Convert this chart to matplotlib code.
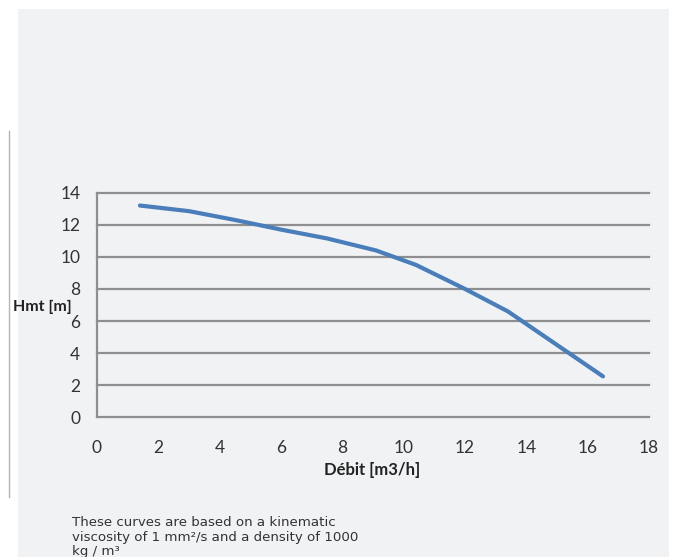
"""Pump curve: Hmt vs flow rate."""
import matplotlib
matplotlib.use('Agg')
import matplotlib.pyplot as plt
from matplotlib.patches import Rectangle
from matplotlib.lines import Line2D

# data
debit = [1.4, 3.0, 4.5, 6.0, 7.5, 9.1, 10.4, 12.0, 13.4, 16.5]
hmt = [13.2, 12.85, 12.3, 11.7, 11.15, 10.4, 9.5, 8.0, 6.6, 2.55]
x_ticks = [0, 2, 4, 6, 8, 10, 12, 14, 16, 18]
y_ticks = [0, 2, 4, 6, 8, 10, 12, 14]
note_lines = [
    "These curves are based on a kinematic",
    "viscosity of 1 mm²/s and a density of 1000",
    "kg / m³",
]

W, H = 675, 557
fig = plt.figure(figsize=(W / 100, H / 100), dpi=100)
fig.patch.set_facecolor("white")

# light gray panel behind everything
fig.add_artist(Rectangle((18 / W, 0), (669 - 18) / W, (H - 9) / H,
                         transform=fig.transFigure, facecolor="#f1f2f4",
                         edgecolor="none", zorder=0))
fig.add_artist(Line2D([8.5 / W, 8.5 / W], [1 - 131 / H, 1 - 497 / H],
                      transform=fig.transFigure, color="#b5b5b5", lw=1))

ax = fig.add_axes([97 / W, (H - 417.3) / H, (649 - 97) / W, (417.3 - 192.7) / H])
ax.set_facecolor("none")
ax.plot(debit, hmt, color="#4a7ebb", lw=3, solid_capstyle="round", zorder=3)

ax.set_xlim(0, 18)
ax.set_ylim(0, 14)
ax.set_xticks(x_ticks)
ax.set_yticks(y_ticks)
for y in y_ticks:
    ax.axhline(y, color="#8e8e8e", lw=1.6, zorder=1, clip_on=False)

for side in ["top", "right", "bottom"]:
    ax.spines[side].set_visible(False)
ax.spines["left"].set_color("#8e8e8e")
ax.spines["left"].set_linewidth(1.6)
ax.tick_params(length=0, labelsize=12.5, labelcolor="#333333")
ax.tick_params(axis="x", pad=16)
ax.tick_params(axis="y", pad=12)
for lab in ax.get_xticklabels() + ax.get_yticklabels():
    lab.set_family("Lato")

fig.text(372 / W, 1 - 470 / H, "Débit [m3/h]", ha="center", va="center",
         fontsize=12, fontweight="bold", family="Lato", color="#222222")
fig.text(13 / W, 1 - 307 / H, "Hmt [m]", ha="left", va="center",
         fontsize=11.5, fontweight="bold", family="Lato", color="#222222")

for i, line in enumerate(note_lines):
    fig.text(72 / W, 1 - (523 + 14 * i) / H, line, ha="left", va="center",
             fontsize=9.6, family="DejaVu Sans", color="#333333")

fig.savefig("out.png", dpi=100)
